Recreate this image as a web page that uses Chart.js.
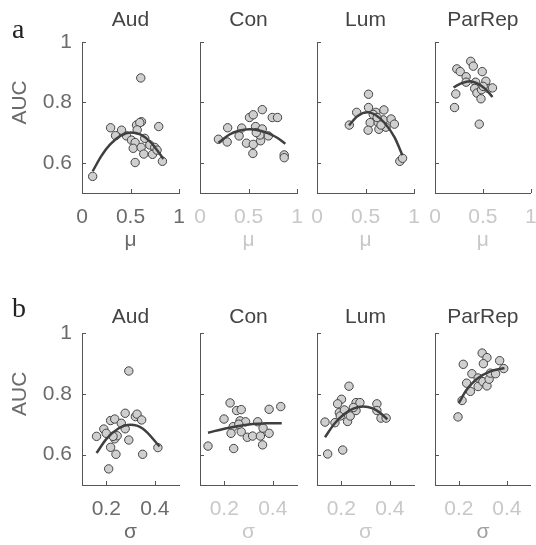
<!DOCTYPE html>
<html><head><meta charset="utf-8">
<script src="https://cdn.jsdelivr.net/npm/chart.js@4"></script>
<style>
html,body{margin:0;padding:0;background:#fff;}
#wrap{position:relative;width:536px;height:545px;overflow:hidden;}
#wrap canvas{position:absolute;left:0;top:0;}
</style></head><body><div id="wrap"></div>
<script>
// ---------- categories / ticks ----------
const panelNames = ['Aud', 'Con', 'Lum', 'ParRep'];
const rowLetters = ['a', 'b'];
const rowParams = ['μ', 'σ'];
const muTicks = [0, 0.5, 1];
const muTickLabels = ['0', '0.5', '1'];
const sigmaTicks = [0.2, 0.4];
const sigmaTickLabels = ['0.2', '0.4'];
const aucTicks = [0.6, 0.8, 1];
const aucTickLabels = ['0.6', '0.8', '1'];
const aucLabel = 'AUC';

// ---------- row a: AUC vs mu ----------
const audMu    = [0.11, 0.295, 0.408, 0.346, 0.459, 0.51, 0.562, 0.613, 0.596, 0.569, 0.791, 0.548, 0.528, 0.61, 0.647, 0.637, 0.699, 0.75, 0.727, 0.774, 0.829, 0.548, 0.606];
const audMuAUC = [0.555, 0.716, 0.708, 0.69, 0.689, 0.675, 0.725, 0.736, 0.733, 0.709, 0.72, 0.667, 0.648, 0.651, 0.681, 0.629, 0.659, 0.651, 0.628, 0.642, 0.605, 0.601, 0.881];
const audMuFitX = [0.11, 0.2, 0.29, 0.4, 0.5, 0.6, 0.7, 0.84];
const audMuFitY = [0.572, 0.623, 0.661, 0.69, 0.7, 0.694, 0.671, 0.613];

const conMu    = [0.19, 0.28, 0.285, 0.403, 0.43, 0.479, 0.51, 0.549, 0.642, 0.549, 0.545, 0.573, 0.625, 0.642, 0.618, 0.705, 0.745, 0.799, 0.868, 0.868, 0.58];
const conMuAUC = [0.678, 0.669, 0.716, 0.689, 0.715, 0.665, 0.75, 0.759, 0.776, 0.661, 0.631, 0.72, 0.673, 0.712, 0.692, 0.689, 0.75, 0.75, 0.626, 0.617, 0.70];
const conMuFitX = [0.19, 0.3, 0.4, 0.51, 0.6, 0.7, 0.8, 0.88];
const conMuFitY = [0.666, 0.693, 0.706, 0.711, 0.708, 0.698, 0.682, 0.663];

const lumMu    = [0.333, 0.409, 0.531, 0.531, 0.607, 0.69, 0.548, 0.527, 0.631, 0.638, 0.711, 0.684, 0.764, 0.798, 0.854, 0.882, 0.58, 0.62, 0.66];
const lumMuAUC = [0.725, 0.767, 0.827, 0.783, 0.767, 0.775, 0.733, 0.708, 0.733, 0.711, 0.718, 0.742, 0.745, 0.728, 0.605, 0.615, 0.76, 0.75, 0.725];
const lumMuFitX = [0.33, 0.42, 0.52, 0.6, 0.7, 0.8, 0.88];
const lumMuFitY = [0.724, 0.755, 0.767, 0.759, 0.731, 0.684, 0.625];

const parMu    = [0.228, 0.263, 0.373, 0.40, 0.325, 0.325, 0.217, 0.204, 0.462, 0.493, 0.424, 0.414, 0.438, 0.486, 0.531, 0.48, 0.555, 0.60, 0.503];
const parMuAUC = [0.911, 0.902, 0.936, 0.92, 0.885, 0.867, 0.828, 0.783, 0.728, 0.902, 0.867, 0.846, 0.831, 0.842, 0.87, 0.812, 0.846, 0.848, 0.853];
const parMuFitX = [0.193, 0.28, 0.366, 0.45, 0.53, 0.6];
const parMuFitY = [0.85, 0.864, 0.87, 0.861, 0.843, 0.818];

// ---------- row b: AUC vs sigma ----------
const audSig    = [0.16, 0.19, 0.20, 0.218, 0.235, 0.262, 0.278, 0.278, 0.32, 0.327, 0.346, 0.293, 0.235, 0.245, 0.218, 0.24, 0.35, 0.413, 0.21, 0.293, 0.228];
const audSigAUC = [0.66, 0.684, 0.67, 0.712, 0.717, 0.703, 0.736, 0.685, 0.725, 0.733, 0.714, 0.648, 0.652, 0.662, 0.624, 0.601, 0.601, 0.623, 0.553, 0.875, 0.66];
const audSigFitX = [0.16, 0.2, 0.25, 0.3, 0.35, 0.42];
const audSigFitY = [0.605, 0.651, 0.686, 0.698, 0.686, 0.627];

const conSig    = [0.133, 0.224, 0.251, 0.27, 0.199, 0.237, 0.265, 0.288, 0.228, 0.27, 0.239, 0.295, 0.317, 0.338, 0.349, 0.36, 0.358, 0.385, 0.385, 0.433, 0.26];
const conSigAUC = [0.628, 0.77, 0.745, 0.748, 0.717, 0.692, 0.711, 0.708, 0.67, 0.675, 0.62, 0.657, 0.661, 0.708, 0.661, 0.687, 0.632, 0.67, 0.749, 0.758, 0.70];
const conSigFitX = [0.133, 0.21, 0.293, 0.375, 0.437];
const conSigFitY = [0.672, 0.687, 0.698, 0.703, 0.703];

const lumSig    = [0.133, 0.144, 0.206, 0.232, 0.201, 0.185, 0.174, 0.192, 0.196, 0.226, 0.237, 0.213, 0.261, 0.277, 0.261, 0.347, 0.347, 0.364, 0.385, 0.25];
const lumSigAUC = [0.707, 0.602, 0.615, 0.825, 0.782, 0.767, 0.705, 0.738, 0.727, 0.709, 0.727, 0.747, 0.771, 0.771, 0.745, 0.767, 0.745, 0.72, 0.72, 0.755];
const lumSigFitX = [0.133, 0.17, 0.21, 0.25, 0.29, 0.33, 0.36, 0.39];
const lumSigFitY = [0.657, 0.70, 0.732, 0.751, 0.758, 0.752, 0.738, 0.716];

const parSig    = [0.196, 0.213, 0.218, 0.297, 0.317, 0.302, 0.37, 0.387, 0.254, 0.232, 0.248, 0.28, 0.28, 0.30, 0.317, 0.326, 0.331, 0.353];
const parSigAUC = [0.724, 0.778, 0.897, 0.934, 0.919, 0.899, 0.909, 0.883, 0.866, 0.835, 0.808, 0.824, 0.852, 0.84, 0.826, 0.848, 0.868, 0.866];
const parSigFitX = [0.199, 0.232, 0.273, 0.328, 0.39];
const parSigFitY = [0.769, 0.813, 0.848, 0.873, 0.885];

// ---------- assemble ----------
const rows = [
  [[audMu, audMuAUC, audMuFitX, audMuFitY], [conMu, conMuAUC, conMuFitX, conMuFitY],
   [lumMu, lumMuAUC, lumMuFitX, lumMuFitY], [parMu, parMuAUC, parMuFitX, parMuFitY]],
  [[audSig, audSigAUC, audSigFitX, audSigFitY], [conSig, conSigAUC, conSigFitX, conSigFitY],
   [lumSig, lumSigAUC, lumSigFitX, lumSigFitY], [parSig, parSigAUC, parSigFitX, parSigFitY]]
];

const W = 536, H = 545;
const FONT = '"Liberation Sans", Arial, Helvetica, sans-serif';
const colLeft = [82, 200, 317, 435];
const plotW = 97;
const DARK = '#6b6b6b', FADE = '#c8c8c8', AXIS = '#555555';
const rowLayout = [
  { padTop: 0,   titlePad: { top: 8, bottom: 8.8 }, padBottom: 292 },
  { padTop: 296, titlePad: { top: 8.4, bottom: 3.4 }, padBottom: 0 }
];

const decor = {
  id: 'decor',
  afterDraw(chart, args, o) {
    const ctx = chart.ctx, xs = chart.scales.x, ys = chart.scales.y;
    ctx.save();
    ctx.strokeStyle = AXIS; ctx.lineWidth = 1;
    ctx.beginPath();
    for (const t of ys.ticks) {
      const y = Math.round(ys.getPixelForValue(t.value)) + 0.5;
      ctx.moveTo(xs.left, y); ctx.lineTo(xs.left + 4, y);
    }
    for (const t of xs.ticks) {
      const x = Math.round(xs.getPixelForValue(t.value)) + 0.5;
      ctx.moveTo(x, ys.bottom); ctx.lineTo(x, ys.bottom - 4);
    }
    ctx.stroke();
    if (o.letter) {
      ctx.fillStyle = '#222';
      ctx.font = '28px "Liberation Serif", "Times New Roman", serif';
      ctx.textAlign = 'left'; ctx.textBaseline = 'alphabetic';
      ctx.fillText(o.letter, 12, o.letterY);
    }
    if (o.yTitle) {
      ctx.fillStyle = DARK;
      ctx.font = '21px ' + FONT;
      ctx.translate(20, ys.getPixelForValue(0.8));
      ctx.rotate(-Math.PI / 2);
      ctx.textAlign = 'center'; ctx.textBaseline = 'middle';
      ctx.fillText(o.yTitle, 0, 0);
    }
    ctx.restore();
  }
};

const wrap = document.getElementById('wrap');
rows.forEach((row, r) => {
  row.forEach((d, c) => {
    const [xs, ys, fx, fy] = d;
    const cv = document.createElement('canvas');
    cv.width = W; cv.height = H;
    wrap.appendChild(cv);
    const isFirst = c === 0;
    const xTicks = r === 0 ? muTicks : sigmaTicks;
    const xLabels = r === 0 ? muTickLabels : sigmaTickLabels;
    const xColor = isFirst ? DARK : FADE;
    const xTitleColor = isFirst ? DARK : (r === 1 && c === 3 ? '#a0a0a0' : FADE);
    const L = rowLayout[r];
    new Chart(cv, {
      type: 'scatter',
      data: {
        datasets: [
          {
            type: 'line',
            data: fx.map((v, i) => ({ x: v, y: fy[i] })),
            borderColor: '#3f3f3f', borderWidth: 2.5, pointRadius: 0,
            cubicInterpolationMode: 'monotone', fill: false
          },
          {
            data: xs.map((v, i) => ({ x: v, y: ys[i] })),
            backgroundColor: '#cfcfcf', borderColor: '#444444', borderWidth: 1,
            pointRadius: 4.2, pointHoverRadius: 4.2
          }
        ]
      },
      options: {
        responsive: false, animation: false, devicePixelRatio: 1,
        layout: { padding: { top: L.padTop, bottom: L.padBottom,
          left: isFirst ? 0 : colLeft[c] - 20, right: W - colLeft[c] - plotW } },
        plugins: {
          legend: { display: false }, tooltip: { enabled: false },
          title: { display: true, text: panelNames[c], fullSize: false, color: '#444',
            font: { family: FONT, size: 21, weight: 'normal', lineHeight: 1.2 }, padding: L.titlePad },
          decor: { letter: isFirst ? rowLetters[r] : null, letterY: r === 0 ? 38 : 317,
            yTitle: isFirst ? aucLabel : null }
        },
        scales: {
          x: {
            type: 'linear', min: r === 0 ? 0 : 0.1, max: r === 0 ? 1 : 0.5,
            afterBuildTicks: s => { s.ticks = xTicks.map(v => ({ value: v })); },
            afterFit: s => { s.height = 60; s.paddingLeft = 0; s.paddingRight = 0; },
            grid: { drawOnChartArea: false, drawTicks: false },
            border: { display: true, color: AXIS, width: 1 },
            ticks: { autoSkip: false, maxRotation: 0, minRotation: 0, padding: 12, color: xColor,
              font: { family: FONT, size: 21, lineHeight: 1.2 },
              callback: (v, i) => xLabels[i] },
            title: { display: true, text: rowParams[r], color: xTitleColor, padding: { top: 0, bottom: 0 },
              font: { family: FONT, size: 21, lineHeight: 1.2 } }
          },
          y: {
            type: 'linear', min: 0.5, max: 1,
            afterBuildTicks: s => { s.ticks = aucTicks.map(v => ({ value: v })); },
            afterFit: s => { s.width = isFirst ? 82 : 20; s.paddingTop = 0; s.paddingBottom = 0; },
            grid: { drawOnChartArea: false, drawTicks: false },
            border: { display: true, color: AXIS, width: 1 },
            ticks: { display: isFirst, padding: 10, color: DARK,
              font: { family: FONT, size: 21, lineHeight: 1.2 },
              callback: (v, i) => aucTickLabels[i] }
          }
        }
      },
      plugins: [decor]
    });
  });
});
</script>
</body></html>
